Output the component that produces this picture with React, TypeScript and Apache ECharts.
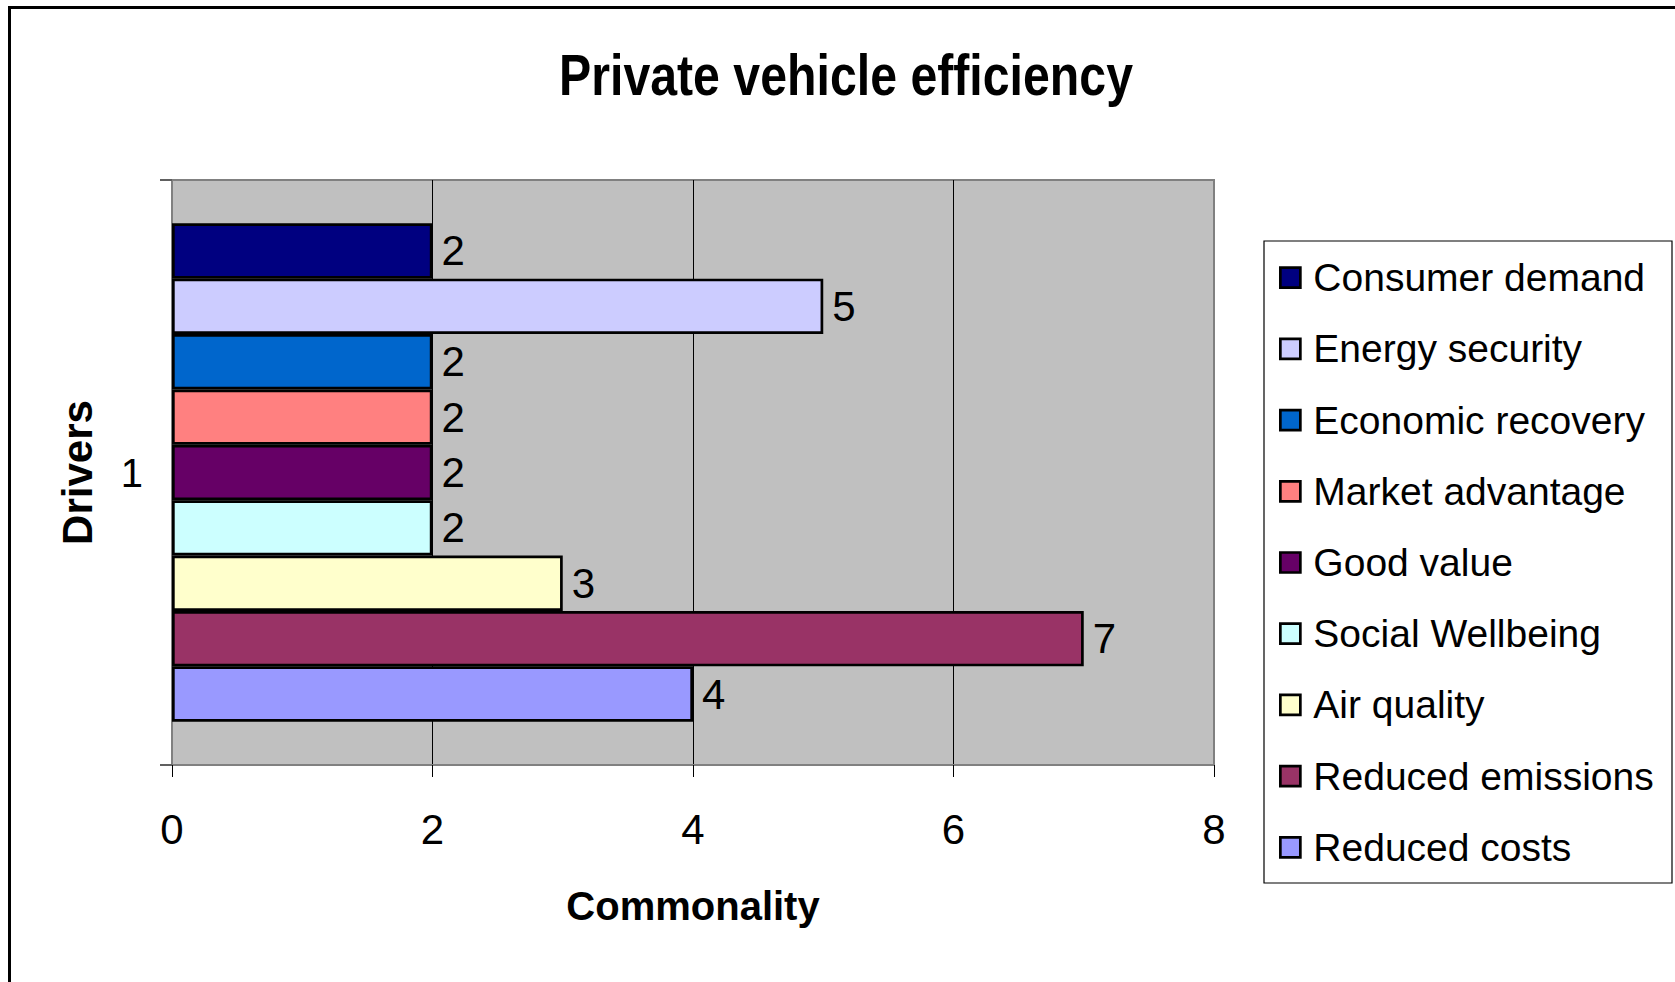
import React, { useEffect, useRef } from "react";
import * as echarts from "echarts";

const categories = ["1"];
const seriesNames = [
  "Consumer demand",
  "Energy security",
  "Economic recovery",
  "Market advantage",
  "Good value",
  "Social Wellbeing",
  "Air quality",
  "Reduced emissions",
  "Reduced costs",
];
const seriesValues = [2, 5, 2, 2, 2, 2, 3, 7, 4];
const seriesColors = [
  "#000080",
  "#CCCCFF",
  "#0066CC",
  "#FF8080",
  "#660066",
  "#CCFFFF",
  "#FFFFCC",
  "#993366",
  "#9999FF",
];
const xTicks = [0, 2, 4, 6, 8];
const chartTitle = "Private vehicle efficiency";

const FONT = "'Liberation Sans', Arial, sans-serif";

export default function App() {
  const ref = useRef<HTMLDivElement>(null);
  useEffect(() => {
    if (!ref.current) return;
    const chart = echarts.init(ref.current, null, { renderer: "svg" });
    chart.setOption({
      animation: false,
      backgroundColor: "#ffffff",
      textStyle: { fontFamily: FONT, color: "#000" },
      grid: {
        left: 172,
        top: 180,
        width: 1042,
        height: 585,
        show: true,
        backgroundColor: "#C0C0C0",
        borderColor: "#808080",
        borderWidth: 2,
        containLabel: false,
      },
      xAxis: {
        type: "value",
        min: xTicks[0],
        max: xTicks[xTicks.length - 1],
        interval: xTicks[1] - xTicks[0],
        axisLine: { show: true, lineStyle: { color: "#808080", width: 2 } },
        axisTick: { show: true, length: 12, lineStyle: { color: "#000", width: 1 } },
        splitLine: {
          show: true,
          lineStyle: { color: ["#808080", "#000", "#000", "#000", "#808080"], width: 1 },
        },
        axisLabel: { fontSize: 42, color: "#000", margin: 43, fontFamily: FONT },
        name: "Commonality",
        nameLocation: "middle",
        nameGap: 121,
        nameTextStyle: { fontSize: 40, fontWeight: "bold", color: "#000", fontFamily: FONT },
      },
      yAxis: {
        type: "category",
        data: categories,
        axisLine: { show: true, lineStyle: { color: "#808080", width: 2 } },
        axisTick: { show: true, length: 12, lineStyle: { color: "#606060", width: 2 } },
        axisLabel: { fontSize: 40, color: "#000", margin: 29, fontFamily: FONT },
        name: "Drivers",
        nameLocation: "middle",
        nameRotate: 90,
        nameGap: 74,
        nameTextStyle: { fontSize: 42, fontWeight: "bold", color: "#000", fontFamily: FONT },
      },
      legend: {
        orient: "vertical",
        left: 1279,
        top: 257.7,
        padding: 0,
        itemWidth: 20,
        itemHeight: 20,
        itemGap: 31.2,
        icon: "rect",
        data: seriesNames,
        textStyle: {
          fontSize: 39,
          lineHeight: 40,
          color: "#000",
          fontFamily: FONT,
          padding: [0, 0, 0, 8],
        },
        itemStyle: { borderColor: "#000", borderWidth: 2.7 },
      },
      series: seriesNames.map((name, i) => ({
        type: "bar",
        name,
        data: [seriesValues[i]],
        barGap: "0%",
        barCategoryGap: "14.8%",
        itemStyle: { color: seriesColors[i], borderColor: "#000", borderWidth: 2.7 },
        label: {
          show: true,
          position: "right",
          distance: 9,
          fontSize: 42,
          color: "#000",
          fontFamily: FONT,
        },
      })),
      graphic: [
        {
          type: "text",
          x: 846,
          y: 75,
          scaleX: 0.832,
          silent: true,
          style: {
            text: chartTitle,
            fill: "#000",
            font: "bold 58px " + FONT,
            textAlign: "center",
            textVerticalAlign: "middle",
          },
        },
        {
          type: "rect",
          shape: { x: 1264, y: 241, width: 408, height: 642 },
          style: { fill: "none", stroke: "#000", lineWidth: 1.2 },
          silent: true,
        },
        {
          type: "line",
          shape: { x1: 9.5, y1: 6, x2: 9.5, y2: 982 },
          style: { stroke: "#000", lineWidth: 3 },
          silent: true,
        },
        {
          type: "line",
          shape: { x1: 8, y1: 7.5, x2: 1675, y2: 7.5 },
          style: { stroke: "#000", lineWidth: 3 },
          silent: true,
        },
      ],
    });
    return () => chart.dispose();
  }, []);
  return (
    <div
      ref={ref}
      style={{ position: "fixed", left: 0, top: 0, width: 1675, height: 982, background: "#fff" }}
    />
  );
}
